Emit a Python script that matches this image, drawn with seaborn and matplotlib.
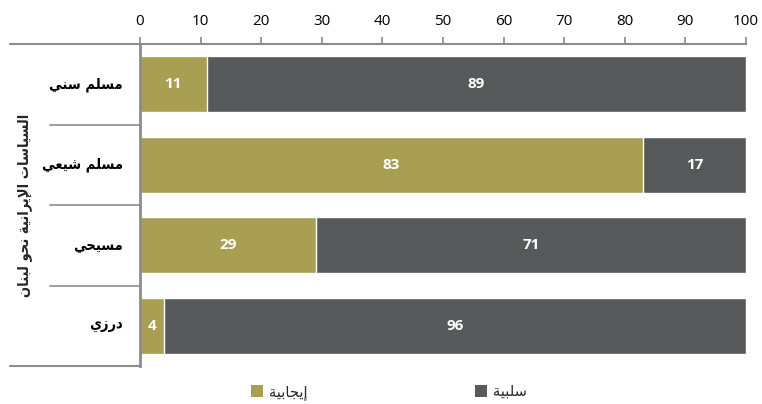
import matplotlib
matplotlib.use("Agg")
import matplotlib.pyplot as plt
from matplotlib.lines import Line2D
from matplotlib.patches import Patch
import seaborn as sns
import pandas as pd

# ---- data -------------------------------------------------------------
groups = ["مسلم سني", "مسلم شيعي", "مسيحي", "درزي"]
positive = [11, 83, 29, 4]
negative = [89, 17, 71, 96]
series_names = ["إيجابية", "سلبية"]
axis_title = "السياسات الإيرانية نحو لبنان"
x_ticks = [0, 10, 20, 30, 40, 50, 60, 70, 80, 90, 100]

OLIVE = "#A99F52"
GREY = "#58595B"
RULE = "#8C8C8C"

# ---- minimal Arabic shaping (matplotlib draws glyphs left to right) ----
FORMS = {  # isolated, final, initial, medial
    "ا": "\uFE8D\uFE8E", "إ": "\uFE87\uFE88", "ة": "\uFE93\uFE94",
    "د": "\uFEA9\uFEAA", "ر": "\uFEAD\uFEAE", "ز": "\uFEAF\uFEB0",
    "و": "\uFEED\uFEEE",
    "ب": "\uFE8F\uFE90\uFE91\uFE92", "ت": "\uFE95\uFE96\uFE97\uFE98",
    "ج": "\uFE9D\uFE9E\uFE9F\uFEA0", "ح": "\uFEA1\uFEA2\uFEA3\uFEA4",
    "س": "\uFEB1\uFEB2\uFEB3\uFEB4", "ش": "\uFEB5\uFEB6\uFEB7\uFEB8",
    "ع": "\uFEC9\uFECA\uFECB\uFECC", "ل": "\uFEDD\uFEDE\uFEDF\uFEE0",
    "م": "\uFEE1\uFEE2\uFEE3\uFEE4", "ن": "\uFEE5\uFEE6\uFEE7\uFEE8",
    "ي": "\uFEF1\uFEF2\uFEF3\uFEF4",
}
LAM_ALEF = {"ا": "\uFEFB\uFEFC", "إ": "\uFEF9\uFEFA"}


def shape(text):
    out = []
    chars = list(text)
    i = 0
    while i < len(chars):
        c = chars[i]
        if c not in FORMS:
            out.append(c)
            i += 1
            continue
        prev = chars[i - 1] if i > 0 else None
        joins_prev = prev is not None and prev in FORMS and len(FORMS[prev]) == 4
        if c == "ل" and i + 1 < len(chars) and chars[i + 1] in LAM_ALEF:
            out.append(LAM_ALEF[chars[i + 1]][1 if joins_prev else 0])
            i += 2
            continue
        nxt = chars[i + 1] if i + 1 < len(chars) else None
        joins_next = len(FORMS[c]) == 4 and nxt is not None and nxt in FORMS
        f = FORMS[c]
        if joins_prev and joins_next:
            g = f[3]
        elif joins_prev:
            g = f[1]
        elif joins_next:
            g = f[2]
        else:
            g = f[0]
        out.append(g)
        i += 1
    return "".join(reversed(out))


# ---- figure -----------------------------------------------------------
sns.set_theme(style="white")
plt.rcParams["font.family"] = ["DejaVu Sans"]

df = pd.DataFrame({"group": groups, "pos": positive, "neg": negative,
                   "total": [p + n for p, n in zip(positive, negative)]})

fig = plt.figure(figsize=(7.62, 4.04), dpi=100)
ax = fig.add_axes([140 / 762, 1 - 366 / 404, 606 / 762, 322 / 404])

sns.barplot(data=df, x="total", y="group", color=GREY, width=0.69,
            saturation=1, ax=ax, orient="h")
sns.barplot(data=df, x="pos", y="group", color=OLIVE, width=0.69,
            saturation=1, ax=ax, orient="h")

# value labels
for i, (p, n) in enumerate(zip(positive, negative)):
    ax.text(p / 2, i, str(p), ha="center", va="center", color="white",
            fontsize=11, fontweight="bold", family="Open Sans")
    ax.text(p + n / 2, i, str(n), ha="center", va="center", color="white",
            fontsize=11, fontweight="bold", family="Open Sans")

ax.set_xlim(0, 100)
ax.set_ylim(3.5, -0.5)
ax.set_xticks(x_ticks)
ax.xaxis.tick_top()
ax.tick_params(axis="x", top=True, bottom=False, direction="out", length=5,
               color=RULE, labelsize=11, pad=6, labelcolor="black")
for lab in ax.get_xticklabels():
    lab.set_family("Open Sans")
ax.set_yticks([])
ax.set_xlabel("")
ax.set_ylabel("")

for side in ["right", "bottom"]:
    ax.spines[side].set_visible(False)
ax.spines["top"].set_color(RULE)
ax.spines["left"].set_color(RULE)
ax.spines["top"].set_linewidth(1.5)
ax.spines["left"].set_linewidth(2)

# category labels and separator rules in the left margin
tr = ax.get_yaxis_transform()
for i, g in enumerate(groups):
    ax.text(-0.028, i, shape(g), transform=tr, ha="right", va="center",
            fontsize=10.5, fontweight="bold", fontstretch="condensed",
            color="black")
for y in [0.5, 1.5, 2.5]:
    ax.add_line(Line2D([-90 / 606, 0], [y, y], transform=tr, color=RULE,
                       lw=1.2, clip_on=False))
for y in [-0.5, 3.5]:
    ax.add_line(Line2D([-130 / 606, 0], [y, y], transform=tr, color=RULE,
                       lw=1.5, clip_on=False))

fig.text(25 / 762, 1 - 205 / 404, shape(axis_title), rotation=90,
         ha="center", va="center", fontsize=10.5, fontweight="bold",
         fontstretch="condensed")

# legend
handles = [Patch(facecolor=OLIVE, edgecolor="none"),
           Patch(facecolor=GREY, edgecolor="none")]
fig.legend(handles, [shape(s) for s in series_names], loc="center",
           bbox_to_anchor=(389 / 762, 1 - 392 / 404), ncol=2, frameon=False,
           fontsize=10.5, handlelength=0.8, handleheight=0.8,
           columnspacing=11.5, handletextpad=0.4)

fig.savefig("out.png", dpi=100, facecolor="white")
